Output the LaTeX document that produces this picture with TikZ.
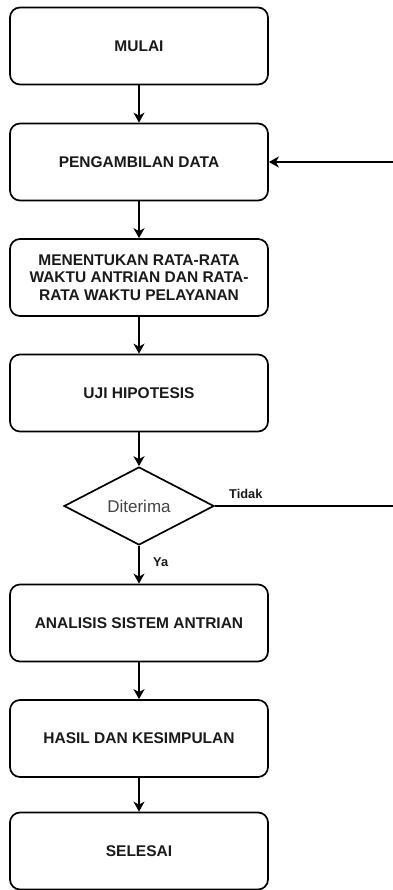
\documentclass[tikz,border=0pt]{standalone}
\usepackage{fontspec}
\setmainfont{Liberation Sans}
\usetikzlibrary{shapes.geometric,arrows.meta}
\definecolor{txt}{HTML}{1A1A1A}
\definecolor{dtxt}{HTML}{444444}
\tikzset{
  x=1pt,y=-1pt,
  box/.style={draw=black, line width=1.7pt, rounded corners=10pt, minimum width=258pt, minimum height=77pt, inner sep=0pt, align=center, text=txt, font=\fontsize{15.5}{17.5}\selectfont\bfseries},
  dec/.style={draw=black, line width=1.7pt, shape=diamond, minimum width=150pt, minimum height=78pt, inner sep=0pt, text=dtxt, font=\fontsize{17}{20}\selectfont},
  lbl/.style={text=txt, inner sep=0pt, font=\fontsize{12.8}{14}\selectfont\bfseries},
  conn/.style={line width=1.7pt, -{Stealth[length=10pt,width=11pt,inset=3pt]}},
  plain/.style={line width=1.7pt}
}
\begin{document}
\begin{tikzpicture}
\useasboundingbox (0,0) rectangle (392,890);
\node[box] (mulai) at (139,46) {MULAI};
\node[box] (ambil) at (139,162) {PENGAMBILAN DATA};
\node[box] (tentu) at (139,277.5) {MENENTUKAN RATA-RATA\\WAKTU ANTRIAN DAN RATA-\\RATA WAKTU PELAYANAN};
\node[box] (uji) at (139,393) {UJI HIPOTESIS};
\node[dec] (dit) at (139,506) {Diterima};
\node[box] (anal) at (139,623) {ANALISIS SISTEM ANTRIAN};
\node[box] (hasil) at (139,738.5) {HASIL DAN KESIMPULAN};
\node[box] (sele) at (139,851) {SELESAI};
\coordinate (r1) at (393,162);
\coordinate (r2) at (393,506);
\draw[conn] (mulai) -- (ambil);
\draw[conn] (ambil) -- (tentu);
\draw[conn] (tentu) -- (uji);
\draw[conn] (uji) -- (dit.north);
\draw[conn] (dit.south) -- (anal);
\draw[conn] (anal) -- (hasil);
\draw[conn] (hasil) -- (sele);
\draw[conn] (r1) -- (ambil.east);
\draw[plain] (dit.east) -- (r2);
\node[lbl, anchor=west] (tidak) at (229,494) {Tidak};
\node[lbl, anchor=west] (ya) at (153,562) {Ya};
\end{tikzpicture}
\end{document}
